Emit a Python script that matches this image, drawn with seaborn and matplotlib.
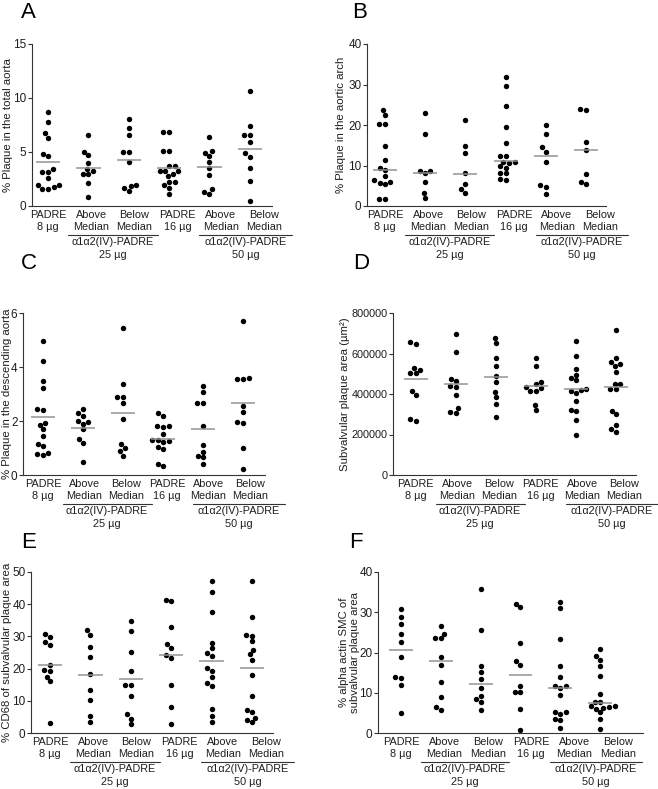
import numpy as np
import pandas as pd
import matplotlib.pyplot as plt
import matplotlib.transforms as mtransforms
import seaborn as sns

# groups (internal keys must be unique, labels repeat)
group_keys = ['p8', 'a25', 'b25', 'p16', 'a50', 'b50']
tick_labels = ['PADRE\n8 µg', 'Above\nMedian', 'Below\nMedian',
               'PADRE\n16 µg', 'Above\nMedian', 'Below\nMedian']
dose_labels = ['α1α2(IV)-PADRE\n25 µg', 'α1α2(IV)-PADRE\n50 µg']

# A - % plaque in the total aorta
total_aorta = [
    [8.75, 7.76, 6.74, 6.34, 4.86, 4.67, 3.40, 3.15, 3.15, 2.63, 1.90, 1.90, 1.60, 1.60, 1.75],
    [6.53, 5.01, 4.73, 4.02, 3.46, 3.28, 2.94, 2.94, 2.13, 0.80],
    [8.10, 7.24, 6.62, 4.98, 4.98, 4.08, 1.92, 1.86, 1.70, 1.39],
    [6.84, 6.84, 5.10, 5.10, 3.71, 3.71, 3.28, 3.20, 3.28, 3.00, 2.75, 2.26, 2.26, 1.95, 1.67, 1.11],
    [6.43, 5.10, 4.92, 4.67, 4.08, 3.50, 2.91, 1.55, 1.33, 1.11],
    [10.61, 7.42, 6.59, 6.59, 5.91, 4.89, 4.58, 3.56, 2.29, 0.43],
]
total_aorta_lines = [4.05, 3.50, 4.30, 3.50, 3.59, 5.29]

# B - % plaque in the aortic arch
aortic_arch = [
    [23.67, 22.43, 20.29, 20.29, 14.85, 11.30, 9.48, 8.91, 7.42, 6.35, 6.02, 5.77, 5.44, 1.73, 1.73],
    [22.85, 17.73, 8.66, 8.66, 8.08, 5.94, 3.30, 1.98],
    [21.2, 14.76, 13.11, 8.08, 5.53, 4.20, 3.30],
    [31.75, 29.6, 24.66, 19.46, 15.67, 12.29, 12.29, 10.89, 10.8, 10.56, 9.81, 9.48, 8.25, 8.08, 6.76, 6.43],
    [20.04, 17.81, 14.52, 13.44, 10.8, 5.11, 4.62, 3.05],
    [23.84, 23.59, 15.84, 13.86, 7.84, 6.02, 5.44],
]
aortic_arch_lines = [8.82, 8.25, 8.0, 11.05, 12.29, 13.77]

# C - % plaque in the descending aorta
desc_aorta = [
    [4.96, 4.24, 3.49, 3.22, 2.44, 2.40, 1.92, 1.86, 1.69, 1.43, 1.14, 1.08, 0.82, 0.77, 0.74],
    [2.45, 2.31, 2.20, 2.00, 1.95, 1.90, 1.70, 1.35, 1.20, 0.48],
    [5.46, 3.38, 2.89, 2.89, 2.66, 2.07, 1.13, 1.01, 0.90, 0.72],
    [2.29, 2.19, 1.83, 1.82, 1.79, 1.51, 1.30, 1.30, 1.25, 1.24, 1.05, 0.98, 0.42, 0.35],
    [3.28, 3.07, 2.66, 2.66, 1.82, 1.10, 0.87, 0.72, 0.66, 0.41],
    [5.70, 3.61, 3.57, 3.56, 2.57, 2.34, 1.98, 1.94, 1.00, 0.22],
]
desc_aorta_lines = [2.15, 1.73, 2.31, 1.35, 1.71, 2.65]

# D - subvalvular plaque area (µm², thousands)
subvalvular_k = [
    [656, 648, 528, 520, 503, 503, 416, 396, 275, 266],
    [698, 607, 475, 465, 440, 435, 395, 330, 313, 305],
    [678, 652, 576, 539, 490, 460, 409, 383, 350, 285],
    [580, 539, 460, 447, 437, 430, 417, 417, 348, 322],
    [660, 589, 525, 495, 480, 467, 424, 420, 414, 404, 366, 323, 315, 272, 198],
    [717, 580, 556, 547, 536, 510, 450, 450, 424, 424, 317, 300, 247, 226, 211],
]
subvalvular_lines_k = [472, 447, 483, 439, 424, 437]

# E - % CD68
cd68 = [
    [30.8, 29.8, 28.3, 27.3, 21.0, 19.5, 19.2, 17.4, 16.0, 3.1],
    [31.9, 30.5, 26.6, 23.5, 18.4, 13.3, 10.2, 5.4, 3.3],
    [34.7, 31.6, 25.2, 19.2, 15.0, 15.0, 11.6, 5.8, 4.5, 2.8],
    [41.3, 40.9, 32.9, 27.6, 26.5, 24.1, 23.4, 14.9, 8.1, 2.8],
    [47.2, 43.7, 37.7, 28.0, 26.3, 24.8, 23.8, 20.1, 19.3, 17.4, 15.6, 14.7, 7.4, 5.4, 3.3],
    [47.2, 35.9, 30.5, 30.2, 28.5, 25.9, 24.4, 22.8, 18.1, 11.4, 7.2, 6.4, 4.8, 4.0, 3.3],
]
cd68_lines = [21.2, 17.9, 16.7, 24.1, 22.4, 20.1]

# F - % alpha actin SMC
smc = [
    [30.9, 28.9, 27.2, 24.7, 22.5, 18.8, 13.8, 13.7, 12.0, 5.05],
    [26.5, 24.6, 23.7, 23.5, 18.8, 16.9, 12.6, 8.9, 6.4, 5.6],
    [35.9, 25.5, 16.7, 15.1, 13.3, 11.2, 9.3, 8.4, 7.6, 5.8],
    [32.0, 31.2, 22.3, 17.8, 16.9, 11.6, 10.2, 10.2, 6.0, 0.8],
    [32.6, 31.1, 23.3, 16.6, 13.9, 11.8, 11.6, 11.3, 9.5, 5.2, 5.2, 4.8, 3.5, 3.3, 1.3],
    [20.9, 19.2, 18.2, 16.7, 14.2, 9.8, 7.6, 7.6, 6.6, 6.6, 6.5, 6.2, 6.0, 5.1, 3.5, 1.0],
]
smc_lines = [20.6, 17.8, 12.2, 14.3, 11.3, 7.5]

sns.set_style('ticks')
plt.rcParams['font.family'] = ['Liberation Sans', 'DejaVu Sans']
txt = '#1e1e1e'

W, H = 658, 789
fig = plt.figure(figsize=(W / 100, H / 100), dpi=100)


def panel(box, values, lines, ylabel, yticks, xlim, letter, letter_xy, ylabel_x,
          label_step=1.07, scale=1.0, ytick_size=8.5, ylabel_size=8.2):
    x0, y0, x1, y1 = box
    ax = fig.add_axes([x0 / W, 1 - y1 / H, (x1 - x0) / W, (y1 - y0) / H])
    df = pd.DataFrame({
        'group': np.repeat(group_keys, [len(v) for v in values]),
        'value': np.concatenate(values) * scale,
    })
    sns.swarmplot(data=df, x='group', y='value', order=group_keys,
                  color='black', size=3.9, ax=ax, zorder=2)
    pos = np.arange(len(group_keys))
    ax.hlines(np.array(lines) * scale, pos - 0.3, pos + 0.3,
              color='#939393', lw=1.1, zorder=3)

    ax.set_xlim(*xlim)
    ax.set_ylim(yticks[0], yticks[-1])
    ax.set_yticks(yticks)
    ax.ticklabel_format(style='plain', axis='y')
    ax.set_xticks(pos * label_step, tick_labels)
    ax.tick_params(axis='x', length=0, pad=3, labelsize=7.8, colors=txt)
    ax.tick_params(axis='y', length=3, width=0.8, pad=1, labelsize=ytick_size,
                   colors=txt, color='#333333')
    for lab in ax.get_xticklabels():
        lab.set_linespacing(1.2)
    ax.set_xlabel('')
    ax.set_ylabel(ylabel, fontsize=ylabel_size, color=txt, linespacing=1.1)
    # right edge of the rotated label, in figure pixels
    ax.yaxis.set_label_coords(
        ylabel_x / W, 0.5,
        transform=mtransforms.blended_transform_factory(fig.transFigure, ax.transAxes))
    sns.despine(ax=ax)
    for s in ('left', 'bottom'):
        ax.spines[s].set_color('#333333')
        ax.spines[s].set_linewidth(0.8)

    # brackets under the paired groups
    line_tr = mtransforms.offset_copy(ax.get_xaxis_transform(), fig=fig,
                                      y=-29, units='dots')
    text_tr = mtransforms.offset_copy(ax.get_xaxis_transform(), fig=fig,
                                      y=-31, units='dots')
    for (a, b), c, lab in zip([(0.5, 2.72), (3.75, 6.05)], [1.6, 4.9], dose_labels):
        ax.plot([a, b], [0, 0], color='#333333', lw=0.8,
                transform=line_tr, clip_on=False)
        ax.text(c, 0, lab, transform=text_tr, ha='center', va='top',
                fontsize=7.8, color=txt, linespacing=1.4)

    fig.text(letter_xy[0] / W, 1 - letter_xy[1] / H, letter, fontsize=16,
             ha='left', va='top', color='black')
    return ax


panel((32, 44, 272, 206), total_aorta, total_aorta_lines,
      '% Plaque in the total aorta', [0, 5, 10, 15], (-0.4, 5.55), 'A', (21, 2), 13)
panel((367, 44, 606, 206), aortic_arch, aortic_arch_lines,
      '% Plaque in the aortic arch', [0, 10, 20, 30, 40], (-0.45, 5.5), 'B', (352, 2),
      346)
panel((23, 313, 265, 475), desc_aorta, desc_aorta_lines,
      '% Plaque in the descending aorta', [0, 2, 4, 6], (-0.5, 5.55), 'C', (21, 253),
      12, label_step=1.035)
panel((393, 313, 636, 475), subvalvular_k, subvalvular_lines_k,
      'Subvalvular plaque area (µm²)', [0, 200000, 400000, 600000, 800000],
      (-0.57, 5.5), 'D', (353, 253), 350, label_step=1.04, scale=1000, ytick_size=7.8)
panel((31, 572, 273, 733), cd68, cd68_lines,
      '% CD68 of subvalvular plaque area', [0, 10, 20, 30, 40, 50], (-0.47, 5.52),
      'E', (21, 532), 12)
panel((378, 572, 643, 733), smc, smc_lines,
      '% alpha actin SMC of\nsubvalvular plaque area', [0, 10, 20, 30, 40],
      (-0.58, 6.08), 'F', (349, 532), 360, label_step=1.09)

fig.savefig('out.png', dpi=100, facecolor='white')
